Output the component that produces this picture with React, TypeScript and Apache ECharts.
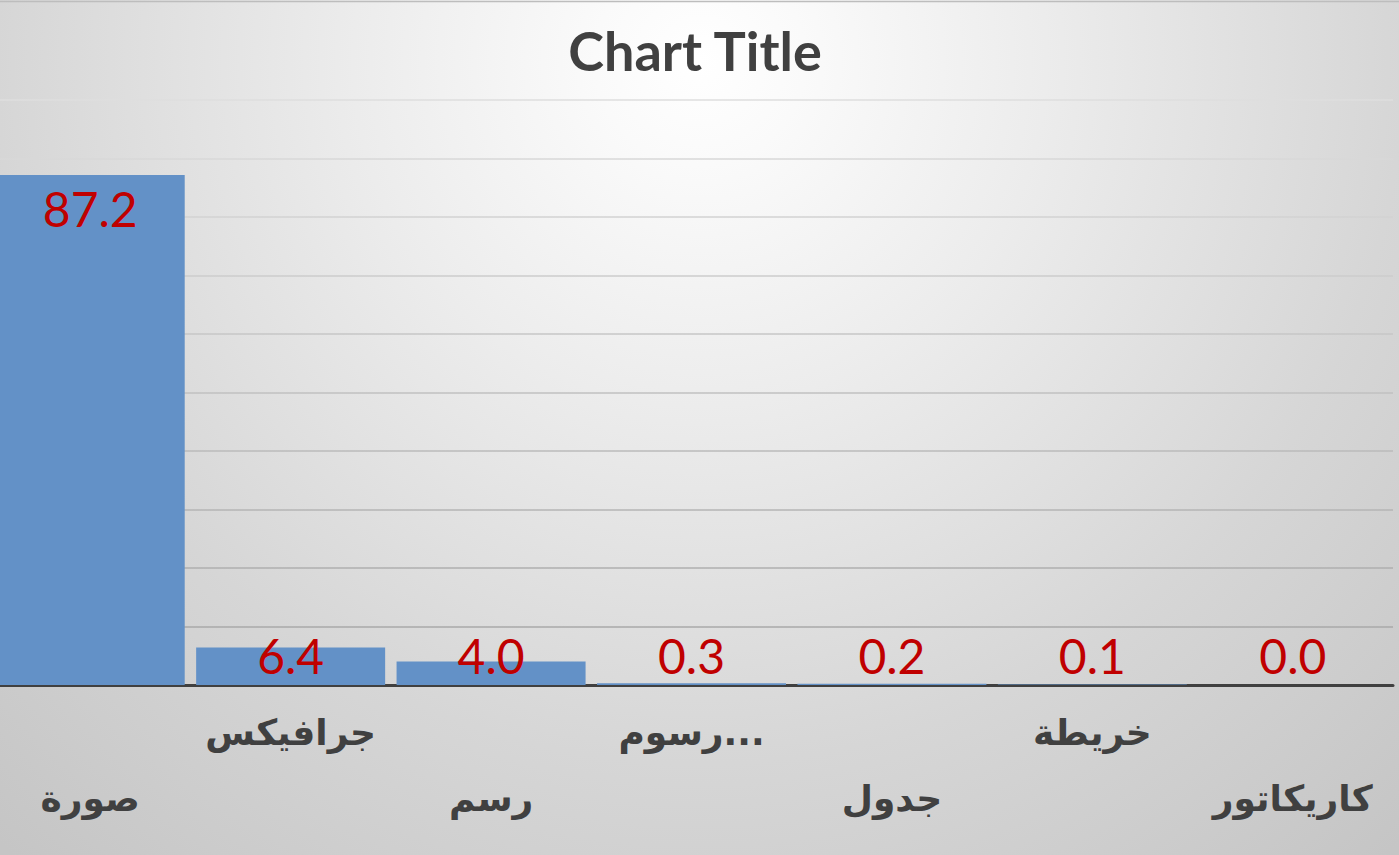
import React, { useEffect, useRef } from "react";
import * as echarts from "echarts";

const titleText = "Chart Title";
const categories = ["صورة", "جرافيكس", "رسم", "رسوم...", "جدول", "خريطة", "كاريكاتور"];
const values = [87.2, 6.4, 4.0, 0.3, 0.2, 0.1, 0.0];
const yMin = 0;
const yMax = 100;
const yInterval = 10;

const SHIFT = 10;

export default function App() {
  const ref = useRef<HTMLDivElement>(null);
  useEffect(() => {
    if (!ref.current) return;
    const chart = echarts.init(ref.current, null, { renderer: "svg" });
    const option: any = {
      animation: false,
      graphic: [
        {
          type: "rect",
          z: -100,
          silent: true,
          shape: { x: 0, y: 0, width: 1399 + SHIFT, height: 855 },
          style: {
            fill: {
              type: "radial",
              x: 700 + SHIFT,
              y: 60,
              r: 1050,
              global: true,
              colorStops: [
                { offset: 0, color: "#ffffff" },
                { offset: 0.1, color: "#fafafa" },
                { offset: 0.33, color: "#ececec" },
                { offset: 0.67, color: "#d6d6d6" },
                { offset: 1, color: "#c5c5c5" },
              ],
            },
          },
        },
        {
          type: "line",
          silent: true,
          shape: { x1: 0, y1: 1.5, x2: 1399 + SHIFT, y2: 1.5 },
          style: { stroke: "#bdbdbd", lineWidth: 1.5 },
        },
      ],
      title: {
        text: titleText,
        left: 690 + SHIFT,
        textAlign: "center",
        top: 18,
        textStyle: {
          fontFamily: "Lato",
          fontWeight: "bold",
          fontSize: 54,
          color: "#404040",
        },
      },
      grid: { left: 0, right: 6, top: 100, bottom: 170, containLabel: false },
      xAxis: {
        type: "category",
        data: categories,
        axisLine: { show: true, lineStyle: { color: "#404040", width: 3 } },
        axisTick: { show: false },
        axisLabel: {
          interval: 0,
          margin: 14,
          fontFamily: "DejaVu Sans",
          fontWeight: "bold",
          fontSize: 36,
          lineHeight: 66,
          color: "#404040",
          formatter: (v: string, i: number) => (i % 2 === 0 ? "\n" + v : v),
        },
      },
      yAxis: {
        type: "value",
        min: yMin,
        max: yMax,
        interval: yInterval,
        axisLine: { show: false },
        axisTick: { show: false },
        axisLabel: { show: false },
        splitLine: {
          show: true,
          lineStyle: {
            width: 1.5,
            color: {
              type: "linear",
              x: 0,
              y: 100,
              x2: 0,
              y2: 685,
              global: true,
              colorStops: [
                { offset: 0, color: "#dedede" },
                { offset: 1, color: "#a3a3a3" },
              ],
            },
          },
        },
      },
      series: [
        {
          type: "bar",
          barWidth: 189,
          itemStyle: { color: "#6391C7" },
          data: values.map((v) => ({
            value: v,
            label: { position: v > 50 ? "insideTop" : "insideBottom", distance: v > 50 ? 10 : 6 },
          })),
          label: {
            show: true,
            fontFamily: "Lato",
            fontSize: 48,
            color: "#C00000",
            formatter: (p: any) => Number(p.value).toFixed(1),
          },
        },
      ],
    };
    chart.setOption(option);
    return () => chart.dispose();
  }, []);
  return (
    <div
      ref={ref}
      style={{ position: "absolute", left: -SHIFT + "px", top: 0, width: 1399 + SHIFT + "px", height: "855px" }}
    />
  );
}
